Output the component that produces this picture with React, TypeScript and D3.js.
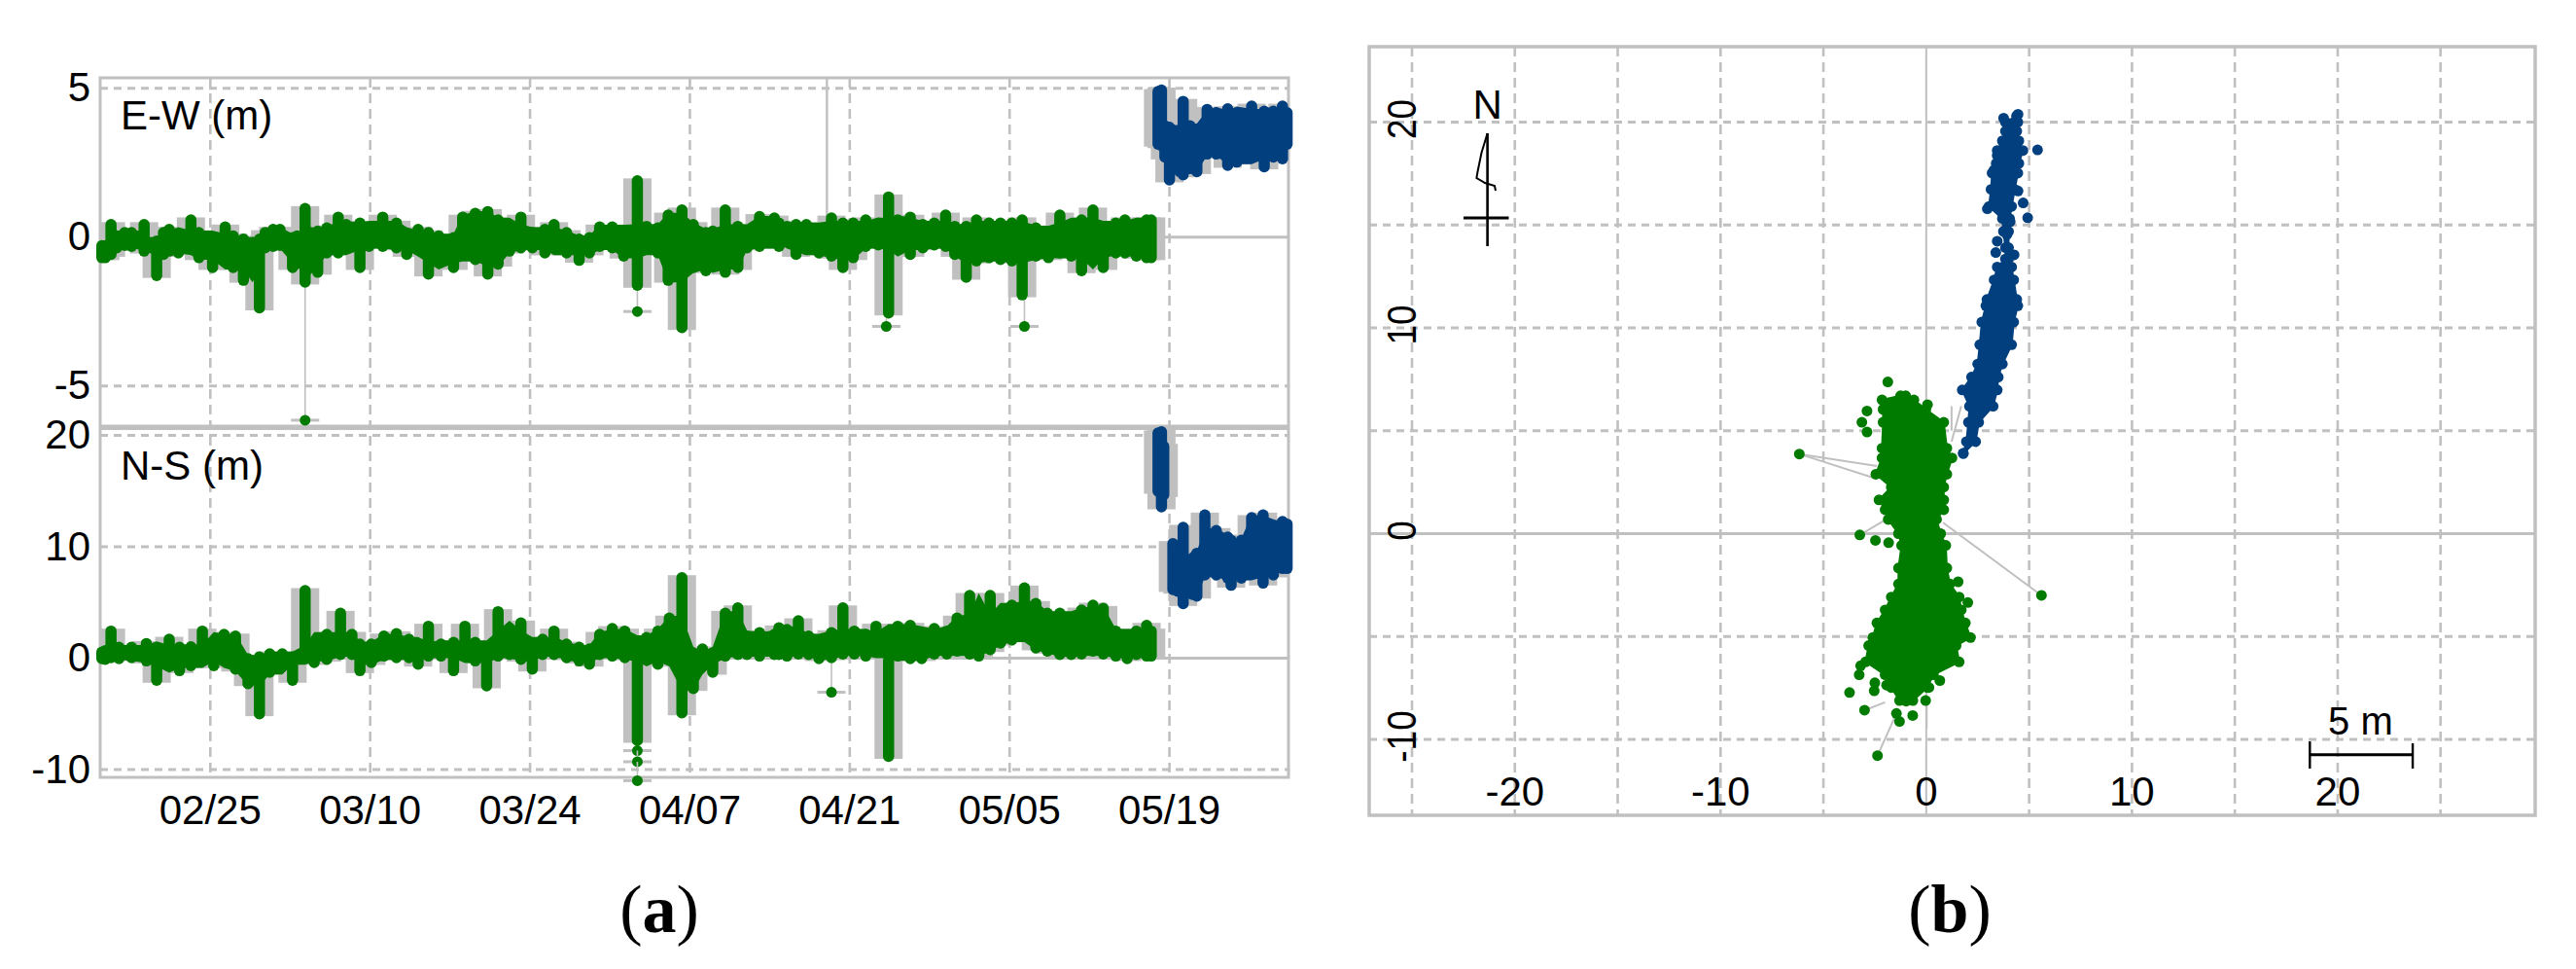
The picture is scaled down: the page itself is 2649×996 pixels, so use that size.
import React from 'react';
import * as d3 from 'd3';

// days counted from 02/25, metres
const xTickDates = ['2016-02-25', '2016-03-10', '2016-03-24', '2016-04-07', '2016-04-21', '2016-05-05', '2016-05-19'];

const ewDays = [-9.5, -9.2, -8.7, -8.2, -7.5, -6.9, -5.8, -5.2, -4.7, -4.1, -3.6, -2.8, -1.7, -1.0, 0.2, 1.3, 2.0, 2.9, 3.7, 4.3, 4.8, 5.5, 6.1, 7.2, 7.6, 8.3, 8.8, 9.4, 10.2, 11.2, 11.9, 13.1, 13.9, 15.1, 16.3, 17.2, 18.2, 19.1, 20, 21.3, 22.1, 23.2, 24.3, 25.2, 26.2, 27.2, 28.2, 29.3, 30.1, 31.2, 32.3, 33.2, 34.1, 35.2, 36.2, 37.4, 38.2, 39.2, 40.1, 41.3, 42.3, 43.4, 44, 45.1, 46.2, 47, 48.1, 49.4, 49.8, 50.5, 51.3, 52.2, 53.3, 54.4, 55.4, 56.3, 57.4, 58.5, 59.4, 60.2, 61.3, 62.4, 63.4, 64.4, 65.2, 66.2, 67.1, 68.2, 69.2, 70.2, 71.1, 72.3, 73.4, 74.4, 75.4, 76.3, 77.3, 78.2, 79.3, 80.1, 81.1, 82.0, 82.4];
const ewHigh = [-0.11, -0.11, 0.6, 0.22, 0.33, 0.33, 0.6, 0, 0.05, 0.33, 0.44, 0.22, 0.76, 0.33, 0.16, 0.52, 0.22, 0.11, 0, 0.11, 0.33, 0.44, 0.44, 0.16, 0.22, 1.14, 0.33, 0.38, 0.49, 0.85, 0.6, 0.65, 0.33, 0.85, 0.65, 0.27, 0.44, 0.33, 0.22, 0.16, 0.85, 0.98, 1.04, 0.76, 0.54, 0.85, 0.33, 0.44, 0.6, 0.33, 0.11, 0.16, 0.52, 0.52, 0.33, 2.07, 0.54, 0.49, 0.92, 1.09, 0.6, 0.33, 0.38, 1.09, 0.54, 0.33, 0.87, 0.82, 0.65, 0.54, 0.6, 0.6, 0.33, 0.82, 0.65, 0.65, 0.76, 0.65, 1.53, 0.76, 0.85, 0.6, 0.65, 0.92, 0.54, 0.54, 0.76, 0.65, 0.65, 0.65, 0.76, 0.49, 0.33, 0.92, 0.6, 0.76, 1.09, 0.44, 0.65, 0.76, 0.54, 0.76, 0.76];
const ewLow = [-0.87, -0.87, -0.76, -0.54, -0.46, -0.49, -0.65, -0.54, -1.47, -0.76, -0.65, -0.71, -0.54, -0.87, -1.2, -0.76, -1.2, -1.63, -1.2, -2.56, -0.54, -0.49, -0.46, -1.2, -0.98, -1.69, -1.09, -1.36, -0.71, -0.71, -0.54, -1.2, -0.49, -0.49, -0.54, -0.76, -0.54, -1.42, -0.98, -1.2, -0.76, -0.93, -1.42, -1.09, -0.65, -0.54, -0.54, -0.71, -0.54, -0.71, -0.96, -0.71, -0.49, -0.54, -0.82, -1.8, -0.44, -0.71, -1.63, -3.22, -1.2, -1.31, -0.76, -1.36, -1.2, -0.54, -0.49, -0.33, -0.49, -0.33, -0.76, -0.6, -0.71, -0.82, -1.2, -0.87, -0.49, -0.44, -2.73, -0.54, -0.76, -0.54, -0.44, -0.49, -0.76, -1.53, -0.98, -0.87, -0.93, -0.98, -2.12, -0.82, -0.87, -0.71, -0.82, -1.31, -0.82, -1.2, -0.71, -0.71, -0.82, -0.87, -0.87];

const ewBlueDays = [83.0, 83.3, 83.6, 84.0, 84.7, 85.2, 85.8, 86.4, 87.3, 88.1, 89.1, 89.9, 91.2, 92.3, 93.1, 93.9, 94.3];
const ewBlueHigh = [5.07, 5.12, 3.92, 3.87, 3.49, 4.74, 3.92, 3.7, 4.47, 4.36, 4.49, 4.03, 4.58, 4.41, 4.41, 4.58, 4.36];
const ewBlueLow = [2.94, 2.89, 2.51, 1.74, 2.18, 1.91, 2.12, 2.02, 2.61, 2.61, 2.23, 2.34, 2.51, 2.18, 2.51, 2.45, 2.94];

// single fixes away from the main band: day, value, value the thin line starts from
const ewOutlierDays = [8.3, 37.4, 59.2, 71.3];
const ewOutlierValues = [-6.15, -2.5, -3.0, -3.0];
const ewOutlierFrom = [-1.69, -1.8, -2.73, -2.12];
const ewSpikeDay = 54.0;

const nsDays = [-9.5, -9.2, -8.7, -8.0, -6.9, -5.6, -4.7, -3.6, -2.7, -1.7, -0.7, 0.3, 1.2, 2.2, 3.3, 4.3, 5.2, 6.3, 7.2, 8.3, 9.1, 10.2, 11.4, 12.4, 13.1, 14.1, 15.2, 16.3, 17.4, 18.2, 19.1, 20.2, 21.3, 22.3, 23.2, 24.2, 25.2, 26.2, 27.2, 28.2, 29.1, 30.1, 31.2, 32.3, 33.2, 34.1, 35.2, 36.3, 37.4, 38.2, 39.2, 40.2, 41.3, 42.3, 43.1, 44, 45.1, 46.2, 47, 48.1, 49.4, 49.8, 50.5, 51.5, 52.4, 53.3, 54.4, 55.4, 56.4, 57.4, 58.3, 59.4, 60.2, 61.3, 62.3, 63.4, 64.5, 65.4, 66.5, 67.3, 68.3, 69.2, 70.2, 71.3, 72.3, 73.3, 74.4, 75.4, 76.3, 77.3, 78.2, 79.3, 80.3, 81.1, 82.0, 82.4];
const nsHigh = [1.02, 1.16, 2.91, 1.46, 1.46, 1.8, 1.31, 2.18, 1.46, 1.51, 2.91, 1.02, 2.62, 2.47, 0.44, 0.58, 0.87, 0.87, 0.58, 6.55, 1.46, 2.62, 4.51, 2.62, 1.75, 1.75, 2.47, 2.68, 2.18, 1.16, 3.35, 1.75, 1.89, 3.35, 1.89, 0.29, 4.66, 2.77, 3.64, 0.44, 2.18, 2.91, 1.75, 1.46, 1.31, 2.62, 3.14, 2.91, 0.87, 2.33, 2.91, 4.08, 7.71, 0.73, 1.31, 0.87, 4.51, 5.0, 2.04, 2.77, 2.62, 3.2, 3.06, 3.84, 2.47, 1.46, 2.77, 5.0, 2.91, 2.62, 3.35, 0.29, 3.35, 3.43, 2.18, 3.14, 2.91, 4.08, 6.11, 4.22, 6.11, 3.93, 5.24, 6.78, 5.39, 4.51, 4.51, 2.91, 4.8, 5.24, 4.95, 2.91, 2.47, 2.91, 3.43, 2.91];
const nsLow = [-0.52, -0.58, -0.44, -0.52, -0.44, -0.73, -2.47, -1.02, -1.6, -1.16, -0.58, -1.16, -0.44, -1.46, -2.77, -5.47, -1.75, -0.87, -2.47, -0.29, -0.87, -0.58, -0.15, -0.15, -1.6, -0.87, -0.29, -0.44, -0.44, -1.02, -0.29, -0.29, -1.6, -0.29, -0.73, -2.97, -0.29, -0.15, -0.58, -1.46, -0.15, -0.15, -0.44, -0.73, -1.02, -0.15, -0.29, -0.44, -7.86, -0.58, -1.02, 0, -5.39, -3.2, -0.87, -1.75, -0.29, -0.15, -0.15, -0.29, -0.15, -0.15, -0.29, -0.1, -0.15, -0.52, -0.44, -0.1, -0.1, -0.29, 0.44, -9.3, -0.29, -0.52, -0.52, -0.1, -0.1, 0.15, -0.1, -0.29, 0.29, 0.87, 1.16, 1.75, 0.44, 0.15, -0.15, -0.15, -0.1, 0.15, -0.1, -0.29, -0.52, -0.15, -0.29, -0.29];

const nsBlueEarlyDays = [83.0, 83.3, 83.5];
const nsBlueEarlyHigh = [20.7, 20.8, 19.5];
const nsBlueEarlyLow = [14.5, 13.1, 14.2];
const nsBlueDays = [84.3, 84.7, 85.2, 86, 86.4, 87.1, 88.1, 89.1, 89.4, 90.3, 91.2, 92.2, 93.1, 93.9, 94.3];
const nsBlueHigh = [10.77, 9.2, 12.23, 9.17, 9.9, 13.33, 11.94, 11.35, 11.06, 11.06, 13.1, 13.33, 12.23, 12.75, 12.52];
const nsBlueLow = [5.68, 5.53, 4.42, 5.24, 5.09, 6.99, 6.99, 6.7, 6.06, 6.7, 7.13, 6.26, 6.99, 7.57, 7.57];

const nsOutlierDays = [37.4, 37.4, 37.4, 54.4];
const nsOutlierValues = [-8.3, -9.3, -11.0, -3.06];
const nsOutlierFrom = [-7.86, -8.3, -9.3, -0.44];

// panel (b): east-west extent of each cloud along north, already inside the marker radius
const blueNorth = [20.3, 20.0, 19.56, 19.09, 18.62, 17.99, 17.52, 16.73, 15.9, 15.31, 14.69, 13.9, 13.35, 12.96, 12.33, 11.38, 11.07, 10.28, 9.18, 8.24, 7.61, 6.98, 6.19, 5.41, 4.47, 3.9];
const blueWest = [4.4, 3.85, 3.85, 3.7, 3.45, 3.4, 3.2, 3.15, 3.05, 3.7, 3.75, 3.85, 3.85, 3.45, 3.3, 2.95, 2.9, 2.7, 2.6, 2.5, 2.2, 1.75, 2.1, 2.05, 1.95, 1.8];
const blueEast = [4.4, 4.45, 4.4, 4.5, 4.7, 4.5, 4.45, 4.3, 4.15, 4.05, 4.0, 4.0, 4.0, 4.15, 4.25, 4.4, 4.45, 4.25, 4.15, 3.7, 3.5, 3.45, 3.25, 2.55, 2.4, 1.8];
const blueDotEast = [5.41, 4.71, 4.93, 4.46, 4.27, 3.38, 3.45, 4.46, 3.76, 3.45, 3.29, 2.97, 4.08, 3.92];
const blueDotNorth = [18.65, 16.07, 15.35, 16.65, 13.55, 13.66, 14.21, 20.38, 20.19, 18.38, 17.67, 15.79, 15.16, 14.53];

const greenNorth = [6.7, 6.5, 6.04, 5.41, 4.15, 3.68, 2.89, 2.26, 1.64, 1.16, 0.69, 0, -0.57, -1.67, -2.45, -3.08, -3.71, -4.34, -5.05, -5.44, -6.23, -6.86, -7.48, -8.11];
const greenWest = [-1.25, -2.15, -2.1, -2.1, -2.15, -2.15, -2.45, -1.7, -2.3, -2.0, -1.85, -1.35, -1.2, -1.35, -1.35, -1.7, -2.0, -2.4, -2.6, -2.8, -2.95, -2.0, -1.7, -1.3];
const greenEast = [-1.0, -0.6, -0.02, 0.85, 1.0, 1.25, 1.0, 0.85, 0.85, 0.85, 0.5, 0.7, 0.95, 1.0, 1.15, 1.6, 1.7, 1.9, 2.15, 1.45, 1.6, 0.35, 0.05, -0.65];
const greenDotEast = [-1.87, -2.88, -3.13, -2.88, -6.17, 0.06, -3.23, -2.47, -1.83, 1.55, 2.02, 5.6, -3.19, -3.26, -3.73, -2.5, -2.53, -1.93, 0.66, -0.03, -0.98, -3.0, -1.45, -1.3, -0.66, -2.37, 0.13];
const greenDotNorth = [7.37, 5.96, 5.41, 4.94, 3.87, 6.27, -0.06, -0.33, -0.44, -2.34, -3.35, -3.0, -6.42, -6.86, -7.72, -7.25, -7.64, -7.36, -7.14, -8.11, -8.14, -8.58, -8.74, -9.13, -8.84, -10.79, -7.48];

// thin connecting lines out to stray fixes: [east, north] pairs
const strayFrom = [[-6.17, 3.87], [-6.17, 3.87], [5.6, -3.0], [-2.37, -10.79], [-3.0, -8.58], [1.23, 6.19], [1.7, 6.19], [-3.23, -0.06], [0.02, -8.1]];
const strayTo = [[-2.4, 3.29], [-2.4, 2.66], [0.82, 0.53], [-1.45, -8.74], [-2.0, -8.2], [1.23, 5.0], [1.23, 4.47], [-2.09, 0.61], [0.02, -9.5]];

const ewTicks = [5, 0, -5];
const nsTicks = [20, 10, 0, -10];
const mapX = [-25, -20, -15, -10, -5, 5, 10, 15, 20, 25];
const mapY = [20, 15, 10, 5, -5, -10];
const mapXLabels = [-20, -10, 0, 10, 20];
const mapYLabels = [20, 10, 0, -10];

const GREEN = '#007b00';
const BLUE = '#013f7e';
const GRAY = '#c0c0c0';
const FONT = '"Liberation Sans", Arial, sans-serif';
const DOT = 5.5;

const day0 = Date.UTC(2016, 1, 25);
const toDate = (d: number) => new Date(day0 + d * 864e5);
const x = d3.scaleUtc().domain([toDate(0), toDate(84)]).range([216.3, 1202.6]);
const yEw = d3.scaleLinear().domain([-5, 5]).range([396.7, 90.7]);
const yNs = d3.scaleLinear().domain([-10, 20]).range([791, 447.5]);
const xMap = d3.scaleLinear().domain([-25, 25]).range([1452, 2509.7]);
const yMap = d3.scaleLinear().domain([-10, 20]).range([760, 125.5]);

const dash = { stroke: GRAY, strokeWidth: 3, strokeDasharray: '8 6' };
const vdash = { stroke: GRAY, strokeWidth: 2.6, strokeDasharray: '10 6' };

// second highest of a value and its two neighbours, so lone spikes stay bars and mounds stay mounds
const mound = (v: number[], i: number, pick: 1 | -1) => {
  const three = [v[i - 1] ?? v[i], v[i], v[i + 1] ?? v[i]].map(n => n * pick).sort((a, b) => b - a);
  return three[1] * pick;
};

// gray error bars behind, then fat round bars and a filled core in the series colour
function Band({ days, hi, lo, color, y, clipId }: { days: number[]; hi: number[]; lo: number[]; color: string; y: d3.ScaleLinear<number, number>; clipId: string }) {
  const core = d3
    .area<number>()
    .x(d => x(toDate(d)))
    .y0((_, i) => y(mound(lo, i, -1)) - DOT * 0.6)
    .y1((_, i) => y(mound(hi, i, 1)) + DOT * 0.6);
  return (
    <g>
      <g clipPath={`url(#${clipId})`}>
        {days.map((d, i) => (
          <rect key={i} x={x(toDate(d)) - 14.5} width={29} y={y(hi[i]) + 3} height={Math.max(0, y(lo[i]) - y(hi[i]) - 6)} fill={GRAY} />
        ))}
      </g>
      <path d={core(days) ?? ''} fill={color} />
      {days.map((d, i) => {
        const top = y(hi[i]) + DOT;
        const bottom = Math.max(top, y(lo[i]) - DOT);
        return <line key={i} x1={x(toDate(d))} x2={x(toDate(d))} y1={top} y2={bottom} stroke={color} strokeWidth={11.5} strokeLinecap="round" />;
      })}
    </g>
  );
}

function Outliers({ days, values, from, y }: { days: number[]; values: number[]; from: number[]; y: d3.ScaleLinear<number, number> }) {
  return (
    <g>
      {days.map((d, i) => (
        <g key={i}>
          <line x1={x(toDate(d))} x2={x(toDate(d))} y1={y(from[i])} y2={y(values[i])} stroke={GRAY} strokeWidth={1.6} />
          <line x1={x(toDate(d)) - 14.5} x2={x(toDate(d)) + 14.5} y1={y(values[i])} y2={y(values[i])} stroke={GRAY} strokeWidth={3} />
          <circle cx={x(toDate(d))} cy={y(values[i])} r={DOT} fill={GREEN} />
        </g>
      ))}
    </g>
  );
}

function Cloud({ north, west, east, dotEast, dotNorth, color }: { north: number[]; west: number[]; east: number[]; dotEast: number[]; dotNorth: number[]; color: string }) {
  const shape = d3
    .area<number>()
    .y(d => yMap(d))
    .x0((_, i) => xMap(west[i]))
    .x1((_, i) => xMap(east[i]));
  return (
    <g>
      <path d={shape(north) ?? ''} fill={color} stroke={color} strokeWidth={2} strokeLinejoin="round" />
      {north.map((n, i) => (
        <g key={i}>
          <circle cx={xMap(west[i])} cy={yMap(n)} r={DOT} fill={color} />
          <circle cx={xMap(east[i])} cy={yMap(n)} r={DOT} fill={color} />
        </g>
      ))}
      {dotEast.map((e, i) => (
        <circle key={i} cx={xMap(e)} cy={yMap(dotNorth[i])} r={DOT} fill={color} />
      ))}
    </g>
  );
}

export default function App() {
  const tickFormat = d3.utcFormat('%m/%d');
  const textStyle = { fontFamily: FONT, fontSize: 42, fill: '#000' };
  return (
    <svg width={2649} height={996} style={{ position: 'absolute', left: 0, top: 0, background: '#fff' }}>
      <defs>
        <clipPath id="plotA">
          <rect x={103} y={0} width={1222} height={996} />
        </clipPath>
      </defs>

      {/* panel (a) grid */}
      {xTickDates.map(t => {
        const px = x(new Date(t));
        return <line key={t} x1={px} x2={px} y1={80} y2={799} {...vdash} />;
      })}
      {ewTicks.filter(v => v !== 0).map(v => (
        <line key={v} x1={103} x2={1325} y1={yEw(v)} y2={yEw(v)} {...dash} />
      ))}
      {nsTicks.filter(v => v !== 0).map(v => (
        <line key={v} x1={103} x2={1325} y1={yNs(v)} y2={yNs(v)} {...dash} />
      ))}
      <line x1={103} x2={1325} y1={yEw(0)} y2={yEw(0)} stroke={GRAY} strokeWidth={3} />
      <line x1={103} x2={1325} y1={yNs(0)} y2={yNs(0)} stroke={GRAY} strokeWidth={3} />
      <line x1={x(toDate(ewSpikeDay))} x2={x(toDate(ewSpikeDay))} y1={80} y2={yEw(0)} stroke={GRAY} strokeWidth={2.4} />
      <rect x={103} y={80} width={1222} height={719} fill="none" stroke={GRAY} strokeWidth={3} />
      <line x1={103} x2={1325} y1={439.3} y2={439.3} stroke={GRAY} strokeWidth={5.5} />

      {/* panel (a) series */}
      <Outliers days={ewOutlierDays} values={ewOutlierValues} from={ewOutlierFrom} y={yEw} />
      <Band days={ewDays} hi={ewHigh} lo={ewLow} color={GREEN} y={yEw} clipId="plotA" />
      <Band days={ewBlueDays} hi={ewBlueHigh} lo={ewBlueLow} color={BLUE} y={yEw} clipId="plotA" />
      <Outliers days={nsOutlierDays} values={nsOutlierValues} from={nsOutlierFrom} y={yNs} />
      <Band days={nsDays} hi={nsHigh} lo={nsLow} color={GREEN} y={yNs} clipId="plotA" />
      <Band days={nsBlueEarlyDays} hi={nsBlueEarlyHigh} lo={nsBlueEarlyLow} color={BLUE} y={yNs} clipId="plotA" />
      <Band days={nsBlueDays} hi={nsBlueHigh} lo={nsBlueLow} color={BLUE} y={yNs} clipId="plotA" />

      {/* panel (a) labels */}
      {ewTicks.map(v => (
        <text key={v} x={93} y={yEw(v) + 13.5} textAnchor="end" {...textStyle}>{v}</text>
      ))}
      {nsTicks.map(v => (
        <text key={v} x={93} y={yNs(v) + 13.5} textAnchor="end" {...textStyle}>{v}</text>
      ))}
      {xTickDates.map(t => (
        <text key={t} x={x(new Date(t))} y={847} textAnchor="middle" {...textStyle}>{tickFormat(new Date(t))}</text>
      ))}
      <text x={124} y={133} {...textStyle}>E-W (m)</text>
      <text x={124} y={493} {...textStyle}>N-S (m)</text>

      {/* panel (b) grid */}
      {mapX.map(v => (
        <line key={v} x1={xMap(v)} x2={xMap(v)} y1={48} y2={838} {...vdash} />
      ))}
      {mapY.map(v => (
        <line key={v} x1={1408} x2={2607} y1={yMap(v)} y2={yMap(v)} {...dash} />
      ))}
      <line x1={xMap(0)} x2={xMap(0)} y1={48} y2={838} stroke={GRAY} strokeWidth={2} />
      <line x1={1408} x2={2607} y1={yMap(0)} y2={yMap(0)} stroke={GRAY} strokeWidth={3} />
      <rect x={1408} y={48} width={1199} height={790} fill="none" stroke={GRAY} strokeWidth={3.5} />

      {/* panel (b) tracks */}
      {strayFrom.map((p, i) => (
        <line key={i} x1={xMap(p[0])} y1={yMap(p[1])} x2={xMap(strayTo[i][0])} y2={yMap(strayTo[i][1])} stroke={GRAY} strokeWidth={2} />
      ))}
      <Cloud north={blueNorth} west={blueWest} east={blueEast} dotEast={blueDotEast} dotNorth={blueDotNorth} color={BLUE} />
      <Cloud north={greenNorth} west={greenWest} east={greenEast} dotEast={greenDotEast} dotNorth={greenDotNorth} color={GREEN} />

      {/* panel (b) labels */}
      {mapXLabels.map(v => (
        <text key={v} x={xMap(v)} y={828} textAnchor="middle" {...textStyle}>{v}</text>
      ))}
      {mapYLabels.map(v => (
        <text key={v} transform={`translate(1455.6,${yMap(v) - 3}) rotate(-90) scale(0.88,1)`} textAnchor="middle" {...textStyle}>{v}</text>
      ))}

      {/* north arrow */}
      <text x={1529.6} y={121.7} textAnchor="middle" {...textStyle}>N</text>
      <line x1={1529.6} x2={1529.6} y1={137} y2={253} stroke="#000" strokeWidth={2.6} />
      <line x1={1505} x2={1551.5} y1={224} y2={224} stroke="#000" strokeWidth={3} />
      <path d="M1529.6,137 L1523.5,157 L1519.4,177 L1518.4,183 L1527,188 L1537,191 L1538,196" fill="none" stroke="#000" strokeWidth={2} />

      {/* scale bar */}
      <text x={2427.4} y={755} textAnchor="middle" {...textStyle} fontSize={40}>5 m</text>
      <line x1={2375.3} x2={2375.3 + xMap(5) - xMap(0)} y1={775.7} y2={775.7} stroke="#000" strokeWidth={3} />
      <line x1={2375.3} x2={2375.3} y1={762} y2={790} stroke="#000" strokeWidth={2.4} />
      <line x1={2375.3 + xMap(5) - xMap(0)} x2={2375.3 + xMap(5) - xMap(0)} y1={764} y2={790} stroke="#000" strokeWidth={2.4} />

      {/* captions */}
      <text x={678} y={958} textAnchor="middle" fontFamily='"Liberation Serif", serif' fontSize={70}>(<tspan fontWeight="bold">a</tspan>)</text>
      <text x={2005} y={958} textAnchor="middle" fontFamily='"Liberation Serif", serif' fontSize={70}>(<tspan fontWeight="bold">b</tspan>)</text>
    </svg>
  );
}
